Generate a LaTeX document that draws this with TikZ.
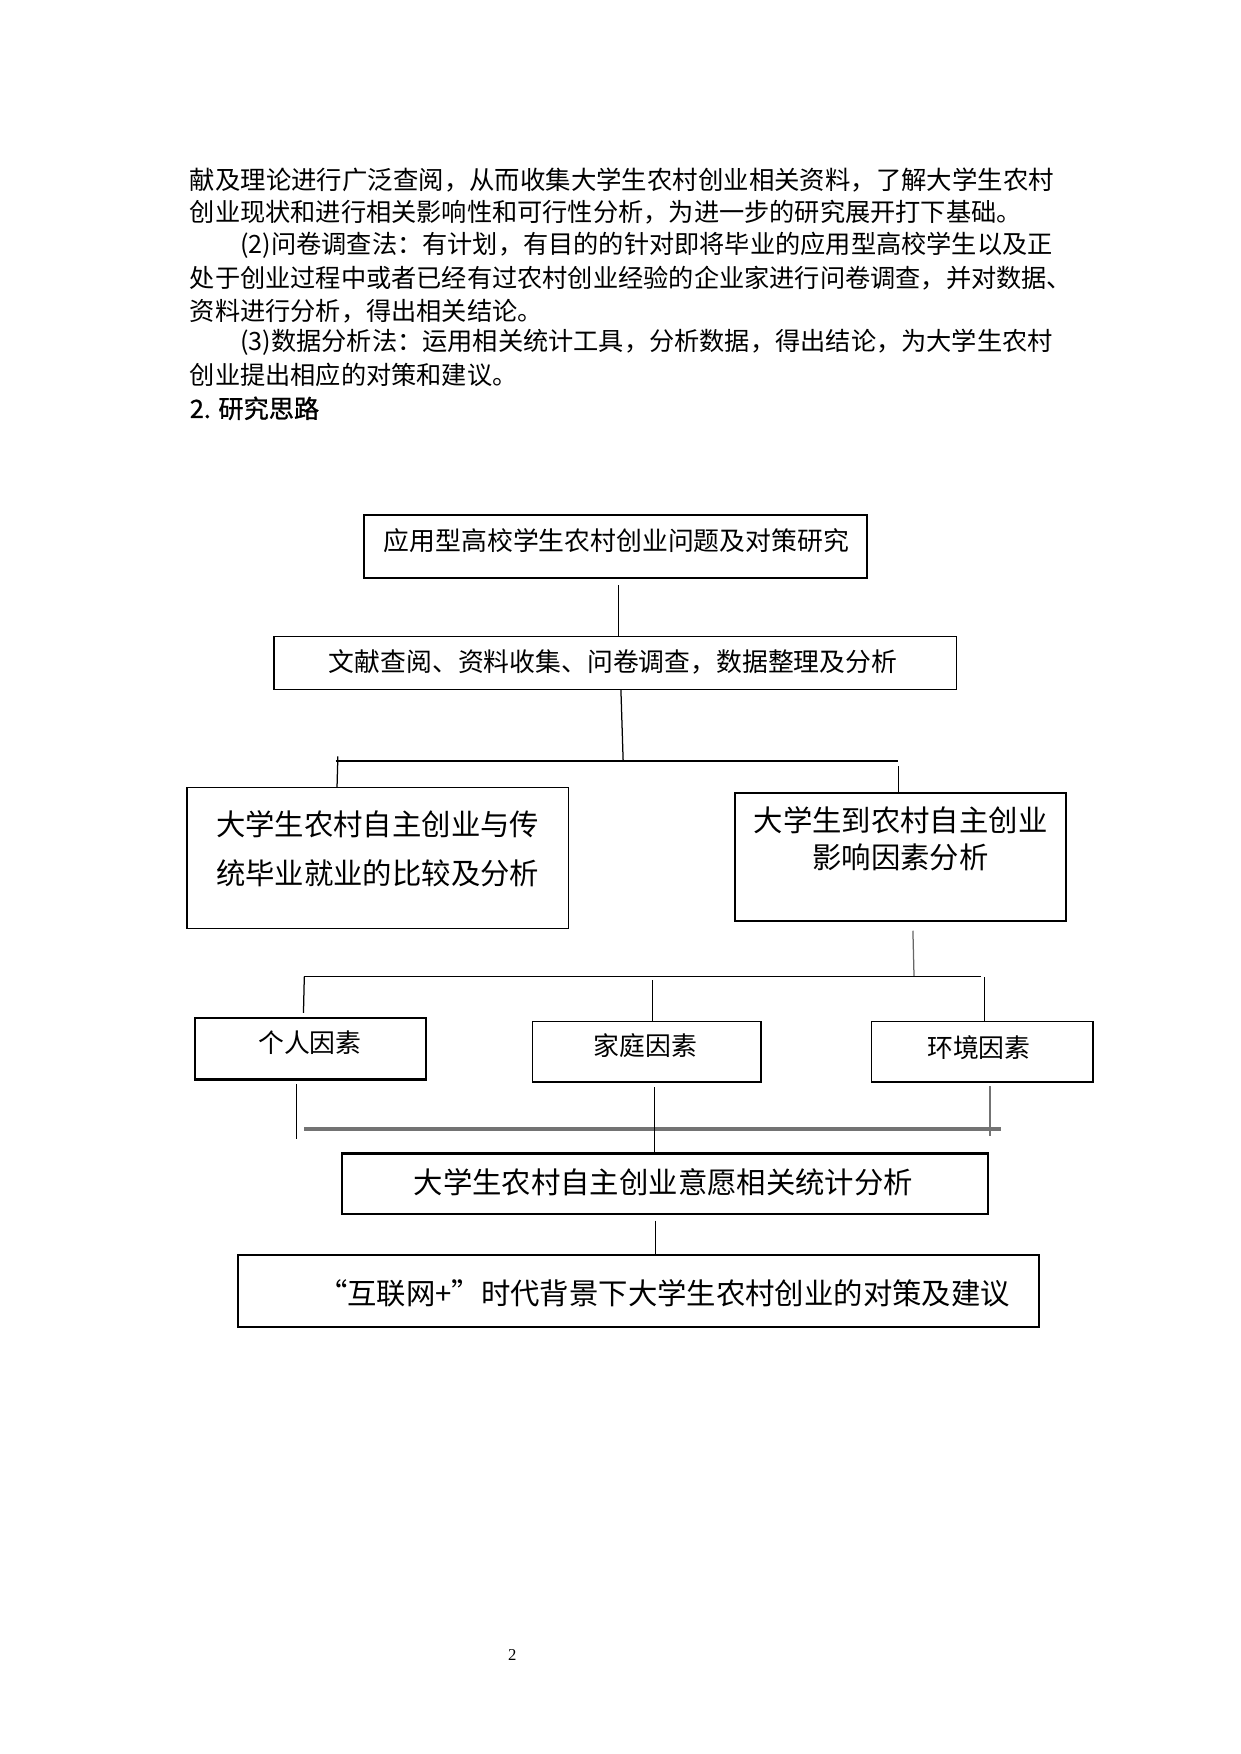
\documentclass[tikz,border=0pt]{standalone}
\usepackage{fontspec}
\setmainfont{Noto Sans CJK SC}
\newfontfamily\pagenofont{Liberation Serif}
\newfontfamily\headfont{Noto Sans CJK SC}[FakeBold=1]
\usetikzlibrary{calc}
\tikzset{every picture/.style={line width=0.75pt}}
\def\px{0.537pt}

\begin{document}
\begin{tikzpicture}[x=0.537pt,y=0.537pt,yscale=-1,xscale=1,
  para/.style={anchor=west,inner sep=0pt,font=\fontsize{12.1}{14}\selectfont},
  box/.style={draw,inner sep=0pt},
  txt/.style={inner sep=0pt,font=\fontsize{12.4}{14}\selectfont},
  bigtxt/.style={inner sep=0pt,align=center,font=\fontsize{14.1}{17}\selectfont},
  link/.style={line width=0.6pt}]
	%set page A4
	\useasboundingbox (0,0) rectangle (1108.5,1567.8);

	%Text: body lines
	\node [para,font=\fontsize{12.2}{14}\selectfont] (ln1) at (169,161) {献及理论进行广泛查阅，从而收集大学生农村创业相关资料，了解大学生农村};
	\node [para] (ln2) at (169,190) {创业现状和进行相关影响性和可行性分析，为进一步的研究展开打下基础。};
	\node [para] (ln3) at (214,219) {(2)问卷调查法：有计划，有目的的针对即将毕业的应用型高校学生以及正};
	\node [para] (ln4) at (169,249) {处于创业过程中或者已经有过农村创业经验的企业家进行问卷调查，并对数据、};
	\node [para] (ln5) at (169,278) {资料进行分析，得出相关结论。};
	\node [para] (ln6) at (214,306) {(3)数据分析法：运用相关统计工具，分析数据，得出结论，为大学生农村};
	\node [para] (ln7) at (169,335) {创业提出相应的对策和建议。};
	\node [para,font=\headfont\fontsize{12.1}{14}\selectfont] (head) at (169,365) {2. 研究思路};

	%Shape: boxes
	\node [box,line width=1pt,minimum width=450*\px,minimum height=57*\px] (top) at (550,488.5) {};
	\node [box,line width=0.6pt,minimum width=610*\px,minimum height=47*\px] (lit) at (550,592.5) {};
	\node [box,line width=0.8pt,minimum width=341*\px,minimum height=126*\px] (cmp) at (337.5,767) {};
	\node [box,line width=1pt,minimum width=296*\px,minimum height=114*\px] (fac) at (805,766) {};
	\node [box,line width=0.8pt,minimum width=207*\px,minimum height=54*\px] (pers) at (277.5,937) {};
	\node [box,line width=0.8pt,minimum width=204*\px,minimum height=54*\px] (fam) at (578,940) {};
	\node [box,line width=0.8pt,minimum width=198*\px,minimum height=54*\px] (env) at (878,940) {};
	\node [box,line width=1pt,minimum width=577*\px,minimum height=54*\px] (stat) at (594.5,1058) {};
	\node [box,line width=0.9pt,minimum width=716*\px,minimum height=64*\px] (sug) at (571,1154) {};
	\draw [line width=1.3pt] (pers.south west) -- (pers.south east);

	%Text: box labels
	\node [txt] (topt) at (551,483) {应用型高校学生农村创业问题及对策研究};
	\node [txt] (litt) at (548,592) {文献查阅、资料收集、问卷调查，数据整理及分析};
	\node [bigtxt,font=\fontsize{14.1}{23.2}\selectfont] (cmpt) at (337.5,758.5) {大学生农村自主创业与传\\统毕业就业的比较及分析};
	\node [bigtxt,font=\fontsize{14.1}{17.8}\selectfont] (fact) at (805,749.5) {大学生到农村自主创业\\影响因素分析};
	\node [txt] (perst) at (277,932) {个人因素};
	\node [txt] (famt) at (577,935) {家庭因素};
	\node [txt] (envt) at (875,936) {环境因素};
	\node [bigtxt] (statt) at (593,1057) {大学生农村自主创业意愿相关统计分析};
	\node [bigtxt] (sugt) at (593.5,1156) {“互联网+”时代背景下大学生农村创业的对策及建议};

	%Text: page number
	\node [inner sep=0pt,font=\pagenofont\fontsize{8}{9}\selectfont] (pgno) at (458,1479) {2};

	%Connectors: first branch
	\coordinate (hubA) at (557,680);
	\coordinate (barL) at (300,680);
	\coordinate (barR) at (803,680);
	\draw [link] ($(top.south)+(3,5)$) -- ($(lit.north)+(3,0)$);
	\draw [link] ($(lit.south)+(5,0)$) -- (hubA);
	\draw [line width=1.2pt] (barL) -- (barR);
	\draw [link] ($(barL)+(2,-4)$) -- ($(cmp.north west)+(135,0)$);
	\draw [link] ($(barR)+(0,5)$) -- ($(fac.north)+(-2,2)$);

	%Connectors: factor branch
	\coordinate (hubB) at (817,873);
	\coordinate (barBL) at (272,873);
	\coordinate (barBR) at (877,873);
	\draw [link,black!60] ($(fac.south)+(11,8)$) -- (hubB);
	\draw [link] (barBL) -- (barBR);
	\draw [link] (barBL) -- ($(pers.north west)+(98,-4)$);
	\draw [link] ($(fam.north)+(5,0)$) -- ++(0,-36);
	\draw [link] ($(env.north)+(2,0)$) -- ($(barBR)+(3,0)$);

	%Connectors: merge
	\coordinate (barCL) at (272,1009);
	\coordinate (barCR) at (895,1009);
	\draw [line width=1.6pt,black!55] (barCL) -- (barCR);
	\draw [link] ($(pers.south)+(-12.5,4)$) -- ++(0,49);
	\draw [link] ($(fam.south)+(7,4)$) -- ($(stat.north)+(-9.5,0)$);
	\draw [link,black!55] ($(env.south)+(7,3)$) -- ++(0,45);
	\draw [link] ($(stat.south)+(-8.5,5)$) -- ($(sug.north)+(15,0)$);

\end{tikzpicture}
\end{document}
